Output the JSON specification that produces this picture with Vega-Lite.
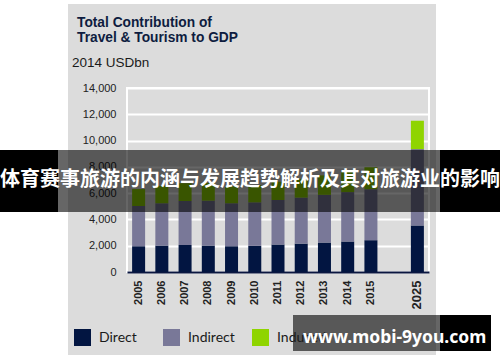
{
  "$schema": "https://vega.github.io/schema/vega-lite/v6.json",
  "width": 302,
  "height": 184,
  "autosize": {"type": "none"},
  "padding": {"left": 127, "top": 88, "right": 71, "bottom": 90},
  "background": "#dcdcdc",
  "config": {"view": {"stroke": "white", "strokeWidth": 2, "fill": null}},
  "title": {
    "text": "www.mobi-9you.com",
    "orient": "bottom",
    "anchor": "start",
    "frame": "group",
    "dx": 176,
    "offset": -19,
    "baseline": "alphabetic",
    "font": "Noto Sans",
    "fontSize": 17.5,
    "fontWeight": "bold",
    "color": "white"
  },
  "data": {
    "values": [
      {"year": "2005", "type": "Direct", "value": 1960},
      {"year": "2005", "type": "Indirect", "value": 3060},
      {"year": "2005", "type": "Induced", "value": 1290},
      {"year": "2006", "type": "Direct", "value": 2010},
      {"year": "2006", "type": "Indirect", "value": 3220},
      {"year": "2006", "type": "Induced", "value": 1330},
      {"year": "2007", "type": "Direct", "value": 2060},
      {"year": "2007", "type": "Indirect", "value": 3340},
      {"year": "2007", "type": "Induced", "value": 1360},
      {"year": "2008", "type": "Direct", "value": 2010},
      {"year": "2008", "type": "Indirect", "value": 3420},
      {"year": "2008", "type": "Induced", "value": 1350},
      {"year": "2009", "type": "Direct", "value": 1960},
      {"year": "2009", "type": "Indirect", "value": 3270},
      {"year": "2009", "type": "Induced", "value": 1290},
      {"year": "2010", "type": "Direct", "value": 1990},
      {"year": "2010", "type": "Indirect", "value": 3310},
      {"year": "2010", "type": "Induced", "value": 1320},
      {"year": "2011", "type": "Direct", "value": 2090},
      {"year": "2011", "type": "Indirect", "value": 3390},
      {"year": "2011", "type": "Induced", "value": 1390},
      {"year": "2012", "type": "Direct", "value": 2160},
      {"year": "2012", "type": "Indirect", "value": 3500},
      {"year": "2012", "type": "Induced", "value": 1430},
      {"year": "2013", "type": "Direct", "value": 2240},
      {"year": "2013", "type": "Indirect", "value": 3630},
      {"year": "2013", "type": "Induced", "value": 1480},
      {"year": "2014", "type": "Direct", "value": 2320},
      {"year": "2014", "type": "Indirect", "value": 3760},
      {"year": "2014", "type": "Induced", "value": 1550},
      {"year": "2015", "type": "Direct", "value": 2420},
      {"year": "2015", "type": "Indirect", "value": 3880},
      {"year": "2015", "type": "Induced", "value": 1670},
      {"year": "2025", "type": "Direct", "value": 3540},
      {"year": "2025", "type": "Indirect", "value": 5810},
      {"year": "2025", "type": "Induced", "value": 2160}
    ]
  },
  "layer": [
    {
      "mark": {"type": "bar"},
      "encoding": {
        "x": {
          "field": "year",
          "type": "nominal",
          "scale": {
            "domain": ["2005", "2006", "2007", "2008", "2009", "2010", "2011", "2012", "2013", "2014", "2015", " ", "2025"],
            "paddingInner": 0.44,
            "paddingOuter": 0.22
          },
          "axis": {
            "title": null,
            "labelAngle": -90,
            "ticks": false,
            "tickSize": 0,
            "domain": true,
            "domainColor": "#0a1640",
            "domainWidth": 2,
            "grid": false,
            "labelFont": "Liberation Sans",
            "labelFontWeight": "bold",
            "labelFontSize": {"condition": {"test": "datum.value === '2025'", "value": 13}, "value": 11},
            "labelColor": "#222222",
            "labelPadding": 8
          }
        },
        "y": {
          "field": "value",
          "type": "quantitative",
          "stack": "zero",
          "scale": {"domain": [0, 14000], "nice": false},
          "axis": {
            "title": null,
            "values": [0, 2000, 4000, 6000, 8000, 10000, 12000, 14000],
            "format": ",.0f",
            "ticks": false,
            "domain": false,
            "grid": true,
            "gridColor": "white",
            "gridWidth": 2,
            "labelFont": "Liberation Sans",
            "labelFontSize": 11,
            "labelColor": "#222222",
            "labelPadding": 11
          }
        },
        "color": {
          "field": "type",
          "type": "nominal",
          "scale": {"domain": ["Direct", "Indirect", "Induced"], "range": ["#021541", "#797898", "#8fd400"]},
          "legend": {
            "title": null,
            "orient": "none",
            "legendX": -53,
            "legendY": 241,
            "direction": "horizontal",
            "symbolType": "square",
            "symbolSize": 289,
            "symbolStrokeWidth": 0,
            "symbolOpacity": 1,
            "labelFont": "Lato",
            "labelFontSize": 14,
            "labelColor": "#1a1a1a",
            "labelOffset": 8,
            "columnPadding": 14,
            "gridAlign": "all"
          }
        },
        "order": {"field": "type", "type": "nominal", "sort": "ascending"}
      }
    },
    {
      "data": {"values": [{}]},
      "mark": {"type": "rect", "color": "white"},
      "encoding": {"x": {"value": -127}, "x2": {"value": -59}, "y": {"value": -88}, "y2": {"value": 274}}
    },
    {
      "data": {"values": [{}]},
      "mark": {"type": "rect", "color": "white"},
      "encoding": {"x": {"value": 309}, "x2": {"value": 373}, "y": {"value": -88}, "y2": {"value": 274}}
    },
    {
      "data": {"values": [{}]},
      "mark": {"type": "rect", "color": "white"},
      "encoding": {"x": {"value": -59}, "x2": {"value": 309}, "y": {"value": -88}, "y2": {"value": -84}}
    },
    {
      "data": {"values": [{}]},
      "mark": {"type": "rect", "color": "white"},
      "encoding": {"x": {"value": -59}, "x2": {"value": 309}, "y": {"value": 267}, "y2": {"value": 274}}
    },
    {
      "data": {"values": [{}]},
      "mark": {"type": "text", "text": ["Total Contribution of", "Travel & Tourism to GDP"], "lineHeight": 15, "font": "Liberation Sans", "fontSize": 13.75, "fontWeight": "bold", "color": "#0e1c40", "align": "left", "baseline": "alphabetic"},
      "encoding": {"x": {"value": -50}, "y": {"value": -61.5}}
    },
    {
      "data": {"values": [{}]},
      "mark": {"type": "text", "text": "2014 USDbn", "font": "Liberation Sans", "fontSize": 13.5, "color": "#1a1a1a", "align": "left", "baseline": "alphabetic"},
      "encoding": {"x": {"value": -55}, "y": {"value": -21}}
    },
    {
      "data": {"values": [{}]},
      "mark": {"type": "rect", "color": "black", "opacity": 0.6},
      "encoding": {"x": {"value": -69}, "x2": {"value": 313}, "y": {"value": 62}, "y2": {"value": 124}}
    },
    {
      "data": {"values": [{}]},
      "mark": {"type": "rect", "color": "black"},
      "encoding": {"x": {"value": -127}, "x2": {"value": -69}, "y": {"value": 62}, "y2": {"value": 124}}
    },
    {
      "data": {"values": [{}]},
      "mark": {"type": "rect", "color": "black"},
      "encoding": {"x": {"value": 313}, "x2": {"value": 373}, "y": {"value": 62}, "y2": {"value": 124}}
    },
    {
      "data": {"values": [{}]},
      "mark": {"type": "text", "text": "体育赛事旅游的内涵与发展趋势解析及其对旅游业的影响", "font": "Noto Sans CJK SC", "fontSize": 20, "fontWeight": "bold", "color": "white", "align": "center", "baseline": "middle"},
      "encoding": {"x": {"value": 123}, "y": {"value": 92}}
    },
    {
      "data": {"values": [{}]},
      "mark": {"type": "rect", "color": "black", "opacity": 0.6},
      "encoding": {"x": {"value": 166}, "x2": {"value": 313}, "y": {"value": 227}, "y2": {"value": 263}}
    },
    {
      "data": {"values": [{}]},
      "mark": {"type": "rect", "color": "black"},
      "encoding": {"x": {"value": 313}, "x2": {"value": 364}, "y": {"value": 227}, "y2": {"value": 263}}
    }
  ]
}
